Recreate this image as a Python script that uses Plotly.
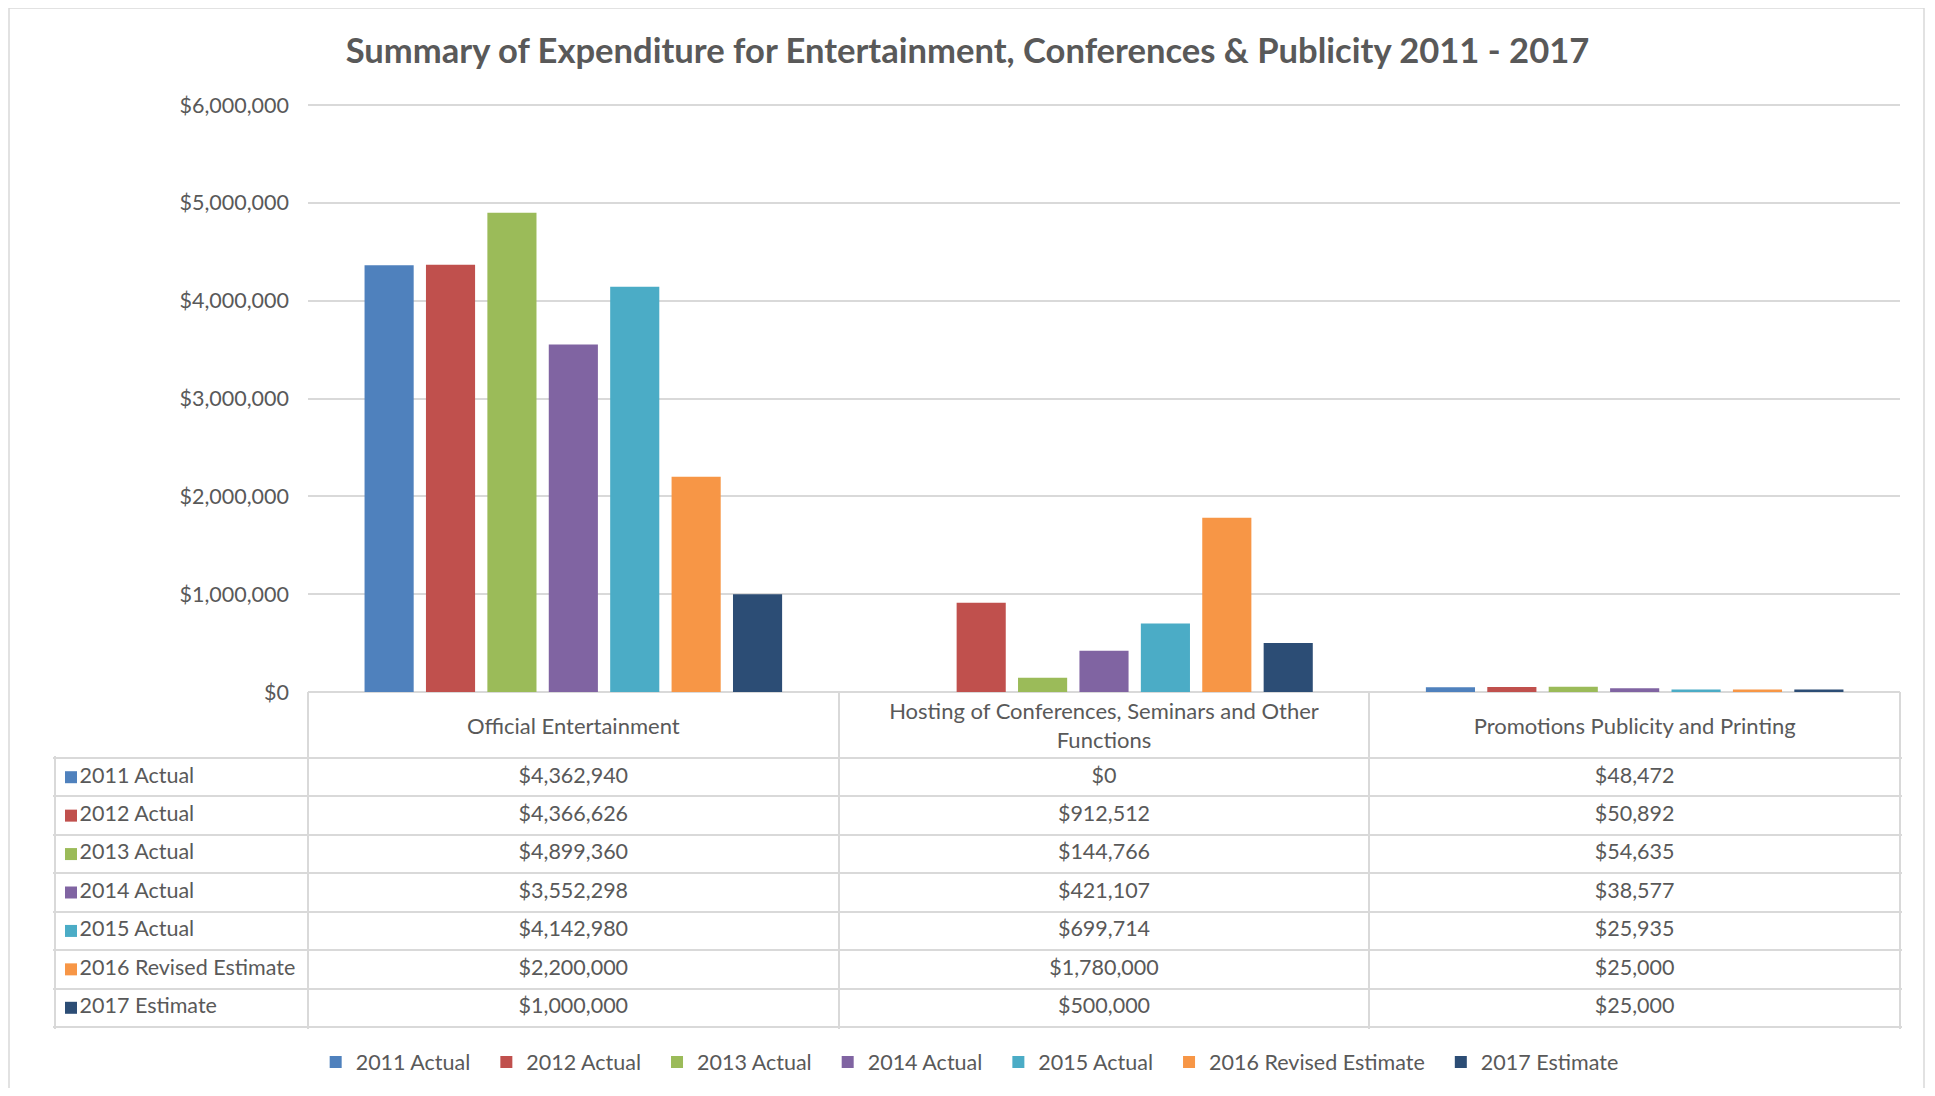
"""Summary of expenditure chart with Excel-style data table underneath."""
import plotly.graph_objects as go

FONT = "Lato"
TEXT_GREY = "#595959"
GRID_GREY = "#D9D9D9"

CATEGORIES = [
    "Official Entertainment",
    "Hosting of Conferences, Seminars and Other Functions",
    "Promotions Publicity and Printing",
]
HEADER_LABELS = [
    "Official Entertainment",
    "Hosting of Conferences, Seminars and Other<br>Functions",
    "Promotions Publicity and Printing",
]
SERIES = [
    "2011 Actual", "2012 Actual", "2013 Actual", "2014 Actual",
    "2015 Actual", "2016 Revised Estimate", "2017 Estimate",
]
COLORS = ["#4F81BD", "#C0504D", "#9BBB59", "#8064A2", "#4BACC6", "#F79646", "#2C4D75"]

official = [4362940, 4366626, 4899360, 3552298, 4142980, 2200000, 1000000]
hosting = [0, 912512, 144766, 421107, 699714, 1780000, 500000]
promotions = [48472, 50892, 54635, 38577, 25935, 25000, 25000]
Y_TICKS = [0, 1000000, 2000000, 3000000, 4000000, 5000000, 6000000]
Y_MAX = 6000000

# figure sits inside the 8px body margin of the page, so work in its own pixels
W, H = 1919, 1080
PLOT_L, PLOT_R, PLOT_T, PLOT_B = 300, 1892, 97, 684
TABLE_L, HEADER_B, TABLE_B = 47, 750, 1019
PAD = 2          # keep edge grid lines away from the range ends so they get drawn
FS = 21.5
LABEL_INSET = 16


def money(v):
    return f"${v:,.0f}"


def xdom(a, b):
    return [a / W, b / W]


def ydom(top, bottom):
    return [1 - bottom / H, 1 - top / H]


fig = go.Figure()

for i, name in enumerate(SERIES):
    fig.add_trace(go.Bar(
        x=CATEGORIES,
        y=[official[i], hosting[i], promotions[i]],
        name=name + "\u00a0\u00a0",
        marker=dict(color=COLORS[i], line=dict(width=0)),
    ))

# ---- data table: text traces on their own axes, borders from grid lines ----
text_font = dict(family=FONT, size=FS, color=TEXT_GREY)

fig.add_trace(go.Scatter(
    x=[LABEL_INSET] * len(SERIES), y=SERIES, text=SERIES,
    mode="markers+text", textposition="middle right",
    marker=dict(symbol="square", size=12, color=COLORS, line=dict(width=0)),
    textfont=text_font, xaxis="x2", yaxis="y2",
    showlegend=False, hoverinfo="skip", cliponaxis=False,
))
for cat, col in zip(CATEGORIES, [official, hosting, promotions]):
    fig.add_trace(go.Scatter(
        x=[cat] * len(col), y=SERIES, text=[money(v) for v in col],
        mode="text", textposition="middle center", textfont=text_font,
        xaxis="x3", yaxis="y2", showlegend=False, hoverinfo="skip", cliponaxis=False,
    ))
fig.add_trace(go.Scatter(
    x=CATEGORIES, y=[0.45] * len(CATEGORIES), text=HEADER_LABELS,
    mode="text", textposition="middle center",
    textfont=dict(family=FONT, size=22, color=TEXT_GREY),
    xaxis="x3", yaxis="y3", showlegend=False, hoverinfo="skip", cliponaxis=False,
))

col_w = (PLOT_R - PLOT_L) / len(CATEGORIES)
row_h = (TABLE_B - HEADER_B) / len(SERIES)
ex = PAD / col_w
ey = PAD / row_h
hidden = dict(showticklabels=False, ticks="", zeroline=False, showline=False)

# outer chart border
fig.add_shape(
    type="rect", xref="paper", yref="paper",
    x0=1 / W, x1=1916 / W, y0=-0.01, y1=1,
    line=dict(color=GRID_GREY, width=1.5),
)

px_per_unit = (PLOT_B - PLOT_T) / Y_MAX

fig.update_layout(
    width=W, height=H,
    margin=dict(l=0, r=0, t=0, b=0, autoexpand=False),
    paper_bgcolor="white", plot_bgcolor="rgba(0,0,0,0)",
    font=dict(family=FONT, color=TEXT_GREY, size=FS),
    title=dict(
        text="<b>Summary of Expenditure for Entertainment, Conferences & Publicity 2011 - 2017</b>",
        x=0.5, xanchor="center", y=1 - 43 / H, yanchor="middle", yref="container",
        font=dict(family=FONT, size=34.6, color=TEXT_GREY),
    ),
    barmode="group", bargap=0.19, bargroupgap=0.2,
    xaxis=dict(
        domain=xdom(PLOT_L, PLOT_R), range=[-0.5, len(CATEGORIES) - 0.5],
        showgrid=False, **hidden,
    ),
    yaxis=dict(
        domain=ydom(PLOT_T - PAD, PLOT_B),
        range=[0, Y_MAX + PAD / px_per_unit],
        tickvals=Y_TICKS, ticktext=[money(v) for v in Y_TICKS],
        showgrid=True, gridcolor=GRID_GREY, gridwidth=1.5,
        zeroline=True, zerolinecolor=GRID_GREY, zerolinewidth=1.5,
        showline=False, ticks="", ticklabelstandoff=18,
        tickfont=dict(family=FONT, size=FS, color=TEXT_GREY),
    ),
    # label column of the table
    xaxis2=dict(
        domain=xdom(TABLE_L - PAD, PLOT_L), range=[-PAD, PLOT_L - TABLE_L],
        anchor="y2", tickvals=[0], showgrid=True, gridcolor=GRID_GREY, gridwidth=1.5,
        **hidden,
    ),
    # value columns of the table, aligned with the bar categories
    xaxis3=dict(
        domain=xdom(PLOT_L - PAD, PLOT_R + PAD), type="category",
        categoryorder="array", categoryarray=CATEGORIES,
        range=[-0.5 - ex, len(CATEGORIES) - 0.5 + ex],
        anchor="y2", tickson="boundaries",
        showgrid=True, gridcolor=GRID_GREY, gridwidth=1.5, **hidden,
    ),
    # table rows, first series at the top
    yaxis2=dict(
        domain=ydom(HEADER_B - PAD, TABLE_B + PAD), type="category",
        categoryorder="array", categoryarray=SERIES[::-1],
        range=[-0.5 - ey, len(SERIES) - 0.5 + ey],
        anchor="x2", tickson="boundaries",
        showgrid=True, gridcolor=GRID_GREY, gridwidth=1.5, **hidden,
    ),
    # table header row
    yaxis3=dict(
        domain=ydom(PLOT_B, HEADER_B), range=[0, 1], anchor="x3",
        showgrid=False, **hidden,
    ),
    showlegend=True,
    legend=dict(
        orientation="h", x=0.504, xanchor="center", y=1 - 1054 / H, yanchor="middle",
        font=dict(family=FONT, size=FS, color=TEXT_GREY), traceorder="normal",
    ),
)

fig.write_html("out.html")
